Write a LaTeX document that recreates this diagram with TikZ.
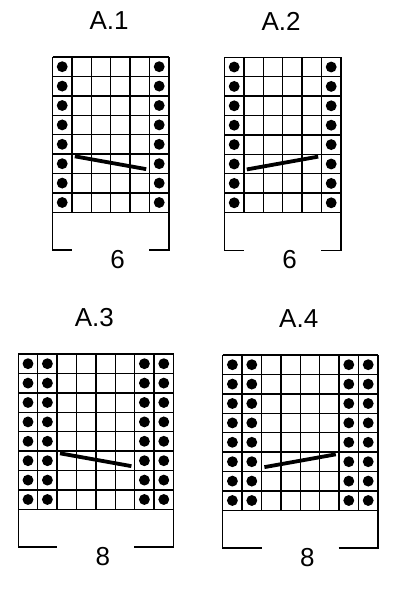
\documentclass[tikz,border=0pt]{standalone}
\usepackage{fontspec}
\setmainfont{Liberation Sans}
\newcommand{\knitchart}[8]{%
	\begin{scope}[shift={(#1,#2)},x=19.4pt,y=-19.4pt]
		\pgfmathtruncatemacro\ncols{2*#3+#4}
		\pgfmathsetmacro\half{\ncols/2}
		\foreach \c in {0,...,\ncols} \draw[grid] (\c,0) -- (\c,8);
		\foreach \r in {0,...,8} \draw[grid] (0,\r) -- (\ncols,\r);
		\foreach \r in {0,...,7} {
			\foreach \c in {1,...,#3} {
				\fill (\c-0.5,\r+0.5) circle[radius=0.28];
				\fill (\ncols-\c+0.5,\r+0.5) circle[radius=0.28];
			}
		}
		\draw[cable] (#3+0.15,#8) -- (#3+#4-0.17,10.9-#8);
		\draw[grid] (0,8) -- (0,9.95) -- (\half-1.98,9.95);
		\draw[grid] (\half+1.98,9.95) -- (\ncols,9.95) -- (\ncols,8);
		\node[lbl] (title#5) at (\half-0.08,-1.86) {#6};
		\node[lbl] (count#5) at (\half+0.36,10.42) {#7};
	\end{scope}}
\begin{document}
\begin{tikzpicture}[x=1pt,y=-1pt,
	grid/.style={line width=1.4pt},
	cable/.style={line width=3.8pt},
	lbl/.style={inner sep=0pt,font=\fontsize{26}{30}\selectfont}]
	\useasboundingbox (0,0) rectangle (401,600);
	\knitchart{52.5}{57}{1}{4}{a}{A.1}{6}{5.12}
	\knitchart{224.5}{57.3}{1}{4}{b}{A.2}{6}{5.78}
	\knitchart{18.3}{354}{2}{4}{c}{A.3}{8}{5.12}
	\knitchart{222.7}{355}{2}{4}{d}{A.4}{8}{5.78}
\end{tikzpicture}
\end{document}
